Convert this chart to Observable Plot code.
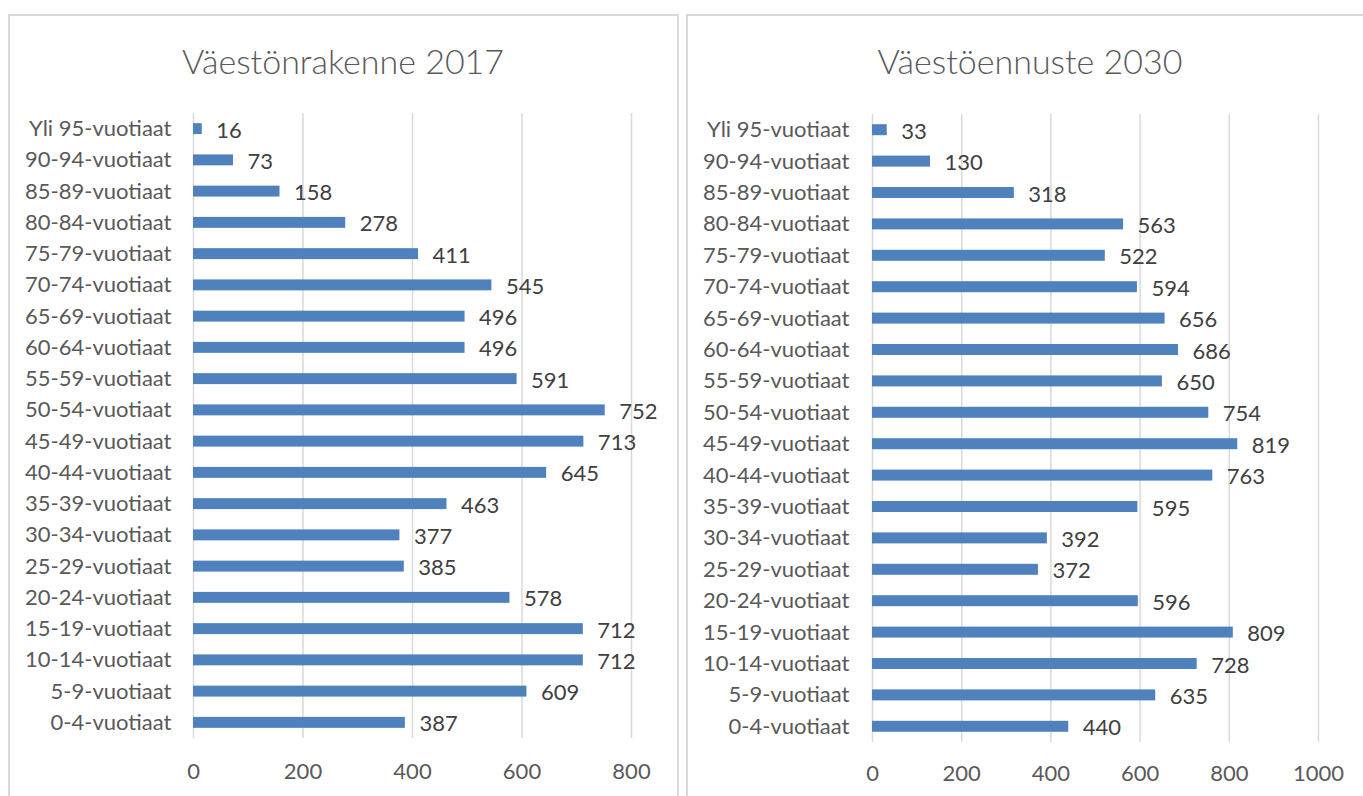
<!DOCTYPE html>
<html>
<head>
<meta charset="utf-8">
<script src="https://cdn.jsdelivr.net/npm/d3@7"></script>
<script src="https://cdn.jsdelivr.net/npm/@observablehq/plot@0.6"></script>
<style>
  html, body { margin: 0; padding: 0; background: #fff; overflow: hidden; }
  body { width: 1363px; height: 796px; position: relative; font-family: Lato, "Open Sans", sans-serif; }
  .panel { position: absolute; box-sizing: border-box; border: 2px solid #d9d9d9; background: #fff; }
  .title { position: absolute; transform: translate(-50%, -50%); font-size: 34px; color: #595959; white-space: nowrap; font-weight: 300; }
  .chart { position: absolute; }
  .chart svg { overflow: visible; }
</style>
</head>
<body>
<div class="panel" style="left:8px; top:14px; width:671px; height:800px;"></div>
<div class="panel" style="left:686px; top:14px; width:680px; height:800px;"></div>
<div class="title" style="left:343px; top:60px;">Väestönrakenne 2017</div>
<div class="title" style="left:1030px; top:60px;">Väestöennuste 2030</div>
<div id="c1" class="chart" style="left:8px; top:14px;"></div>
<div id="c2" class="chart" style="left:686px; top:14px;"></div>
<script>
// Age groups, top to bottom as shown
const ageGroups = [
  "Yli 95-vuotiaat", "90-94-vuotiaat", "85-89-vuotiaat", "80-84-vuotiaat",
  "75-79-vuotiaat", "70-74-vuotiaat", "65-69-vuotiaat", "60-64-vuotiaat",
  "55-59-vuotiaat", "50-54-vuotiaat", "45-49-vuotiaat", "40-44-vuotiaat",
  "35-39-vuotiaat", "30-34-vuotiaat", "25-29-vuotiaat", "20-24-vuotiaat",
  "15-19-vuotiaat", "10-14-vuotiaat", "5-9-vuotiaat", "0-4-vuotiaat"
];
const values2017 = [16, 73, 158, 278, 411, 545, 496, 496, 591, 752, 713, 645, 463, 377, 385, 578, 712, 712, 609, 387];
const values2030 = [33, 130, 318, 563, 522, 594, 656, 686, 650, 754, 819, 763, 595, 392, 372, 596, 809, 728, 635, 440];
const ticks2017 = [0, 200, 400, 600, 800];
const ticks2030 = [0, 200, 400, 600, 800, 1000];

function makeChart(values, ticks, opts) {
  const data = ageGroups.map((g, i) => ({group: g, value: values[i]}));
  return Plot.plot({
    width: opts.width,
    height: 782,
    marginLeft: opts.marginLeft,
    marginRight: opts.marginRight,
    marginTop: opts.marginTop,
    marginBottom: opts.marginBottom,
    style: {fontFamily: "Lato, 'Open Sans', sans-serif", fontSize: "22px", color: "#595959", background: "transparent"},
    x: {domain: [ticks[0], ticks[ticks.length - 1]]},
    y: {domain: ageGroups, paddingInner: 0.65, paddingOuter: 0.325, round: false},
    marks: [
      Plot.ruleX(ticks, {stroke: "#d9d9d9", strokeWidth: 1.5}),
      Plot.barX(data, {x: "value", y: "group", fill: "#4f81bd"}),
      Plot.text(data, {x: "value", y: "group", text: d => String(d.value), textAnchor: "start", dx: 14, dy: 1.5, fill: "#404040", fontSize: 22}),
      Plot.axisX({ticks: ticks, tickSize: 0, tickPadding: opts.tickPadX, tickFormat: d => String(d), label: null, fontSize: 22}),
      Plot.axisY({tickSize: 0, tickPadding: opts.tickPadY, label: null, fontSize: 22})
    ]
  });
}

document.getElementById("c1").append(makeChart(values2017, ticks2017, {
  width: 671, marginLeft: 185, marginRight: 48, marginTop: 99, marginBottom: 58, tickPadX: 25, tickPadY: 22
}));
document.getElementById("c2").append(makeChart(values2030, ticks2030, {
  width: 677, marginLeft: 186, marginRight: 45, marginTop: 100, marginBottom: 54, tickPadX: 23, tickPadY: 23
}));
</script>
</body>
</html>
